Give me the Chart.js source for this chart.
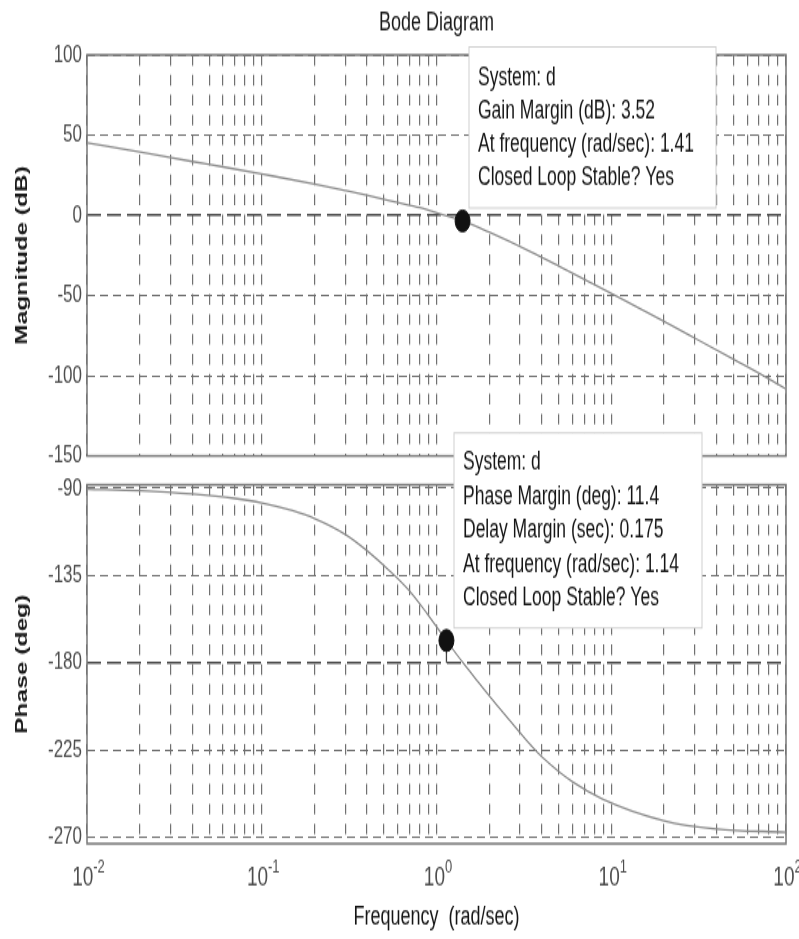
<!DOCTYPE html>
<html>
<head>
<meta charset="utf-8">
<title>Bode Diagram</title>
<script src="https://cdn.jsdelivr.net/npm/chart.js@4.4.0/dist/chart.umd.min.js"></script>
<style>
  html, body { margin: 0; padding: 0; background: #fff; }
  #wrap { position: relative; width: 799px; height: 939px; overflow: hidden; }
  /* canvases are drawn 650px tall and stretched to 939px, like the source image */
  #wrap canvas { position: absolute; left: 0; top: 0; }
</style>
</head>
<body>
<div id="wrap">
  <canvas id="mag" width="799" height="650" style="width:799px;height:939px"></canvas>
  <canvas id="phase" width="799" height="650" style="width:799px;height:939px"></canvas>
</div>
<script>
// magnitude curve
const magFreq = [0.01, 0.02, 0.04, 0.06, 0.1, 0.2, 0.3, 0.4, 0.6, 0.8, 1.05, 1.41, 2.0, 3.44, 5, 10.3, 20, 30, 50, 78, 100];
const magDb = [45.2, 39.5, 33.6, 30.2, 25.8, 19.6, 15.5, 12.5, 8.0, 4.8, 0.9, -3.52, -10.5, -22.5, -31.5, -49.4, -66.1, -76.5, -89.7, -101.3, -108.2];

// phase curve
const phaseFreq = [0.01, 0.02, 0.04, 0.07, 0.1, 0.15, 0.2, 0.3, 0.4, 0.54, 0.7, 0.88, 1.14, 1.43, 2.03, 3.0, 3.5, 4.0, 6.0, 9.0, 20, 40, 100];
const phaseDeg = [-90.5, -91.3, -93, -95.3, -97.6, -101.6, -105.6, -113.8, -122.2, -132.7, -143, -154.5, -168.6, -180.5, -197.8, -216, -223, -228.5, -241.5, -250.5, -261.5, -265.8, -267.5];

// margins shown in the data tips
const gainMargin = 3.52;
const gmFreq = 1.41;
const phaseMargin = 11.4;
const delayMargin = 0.175;
const pmFreq = 1.14;

// ticks
const magTicks = [100, 50, 0, -50, -100, -150];
const phaseTicks = [-90, -135, -180, -225, -270];
const decadeExps = [-2, -1, 0, 1, 2];
const minorSteps = [1, 2, 3, 4, 5, 6, 7, 8, 9];

const family = "'Liberation Sans', Arial, Helvetica, sans-serif";
const tickColor = '#4d4d4d';
const gridColor = '#707070';
const strongGrid = '#4a4a4a';

Chart.defaults.font.family = family;
Chart.defaults.color = tickColor;

const xGridValues = [];
decadeExps.forEach(e => {
  if (e === 2) { xGridValues.push(100); return; }
  minorSteps.forEach(m => xGridValues.push(m * Math.pow(10, e)));
});

const isRef = (c, v) => c.tick && c.tick.value === v;

function xScale(extra) {
  return Object.assign({
    type: 'logarithmic',
    min: 0.01,
    max: 100,
    ticks: { display: false },
    grid: { color: gridColor, lineWidth: 1.2, drawTicks: false },
    border: { display: false, dash: [7.4, 6.4] },
    afterBuildTicks: s => { s.ticks = xGridValues.map(v => ({ value: v })); }
  }, extra);
}

function yScale(min, max, ticks, refValue, label) {
  return {
    min: min,
    max: max,
    afterBuildTicks: s => { s.ticks = ticks.map(v => ({ value: v })); },
    afterFit: s => { s.width = 87; },
    ticks: { padding: 5, font: { size: 17 }, color: tickColor },
    grid: {
      drawTicks: false,
      color: c => isRef(c, refValue) ? strongGrid : gridColor,
      lineWidth: c => isRef(c, refValue) ? 1.5 : 1
    },
    border: { display: false, dash: c => isRef(c, refValue) ? [14, 6] : [8, 5] },
    title: {
      display: true,
      text: label,
      color: '#1a1a1a',
      font: { size: 17, weight: 'bold' },
      padding: { top: 12.2, bottom: 0 }
    }
  };
}

const frame = {
  id: 'frame',
  beforeDatasetsDraw(chart) {
    const { ctx, chartArea: a } = chart;
    ctx.save();
    ctx.strokeStyle = '#777';
    ctx.lineWidth = 1.5;
    ctx.strokeRect(a.left, a.top, a.right - a.left, a.bottom - a.top);
    ctx.restore();
  }
};

function dataTip(box) {
  return {
    id: 'tip',
    afterDraw(chart) {
      const ctx = chart.ctx;
      ctx.save();
      ctx.fillStyle = '#fff';
      ctx.fillRect(box.x, box.y, box.w, box.h);
      ctx.strokeStyle = '#cfcfcf';
      ctx.lineWidth = 1;
      ctx.strokeRect(box.x, box.y, box.w, box.h);
      ctx.fillStyle = '#151515';
      ctx.font = '17.5px ' + family;
      ctx.textAlign = 'left';
      ctx.textBaseline = 'alphabetic';
      box.lines.forEach((t, i) => ctx.fillText(t, box.x + 9, box.base + i * box.step));
      ctx.restore();
    }
  };
}

const decadeLabels = {
  id: 'decadeLabels',
  afterDraw(chart) {
    const ctx = chart.ctx;
    const xs = chart.scales.x;
    ctx.save();
    ctx.fillStyle = tickColor;
    ctx.textAlign = 'left';
    ctx.textBaseline = 'alphabetic';
    decadeExps.forEach(e => {
      const px = xs.getPixelForValue(Math.pow(10, e));
      ctx.font = '19px ' + family;
      const wb = ctx.measureText('10').width;
      ctx.font = '13px ' + family;
      const we = ctx.measureText(String(e)).width;
      const x0 = px + 1.5 - (wb + we) / 2;
      ctx.font = '19px ' + family;
      ctx.fillText('10', x0, 613);
      ctx.font = '13px ' + family;
      ctx.fillText(String(e), x0 + wb, 604);
    });
    ctx.restore();
  }
};

const lineStyle = {
  borderColor: '#8c8c8c',
  borderWidth: 1.3,
  pointRadius: 0,
  cubicInterpolationMode: 'monotone',
  order: 2
};

const markerStyle = {
  showLine: false,
  pointRadius: 7.5,
  pointBackgroundColor: '#111',
  pointBorderColor: '#111',
  order: 0
};

new Chart(document.getElementById('mag'), {
  type: 'line',
  data: {
    datasets: [
      Object.assign({ data: [{ x: gmFreq, y: -gainMargin }] }, markerStyle),
      Object.assign({ data: magFreq.map((f, i) => ({ x: f, y: magDb[i] })) }, lineStyle)
    ]
  },
  options: {
    responsive: false,
    animation: false,
    events: [],
    layout: { padding: { top: 0, left: 0, right: 13, bottom: 334.4 } },
    plugins: {
      legend: { display: false },
      tooltip: { enabled: false },
      title: {
        display: true,
        text: 'Bode Diagram',
        fullSize: false,
        color: '#1a1a1a',
        font: { size: 18, weight: 'normal' },
        padding: { top: 4.9, bottom: 11.5 }
      }
    },
    scales: {
      x: xScale({ afterFit: s => { s.height = 0; } }),
      y: yScale(-150, 100, magTicks, 0, 'Magnitude (dB)')
    }
  },
  plugins: [frame, dataTip({
    x: 469, y: 32.5, w: 247, h: 111.5, base: 59, step: 23,
    lines: ['System: d', 'Gain Margin (dB): ' + gainMargin, 'At frequency (rad/sec): ' + gmFreq, 'Closed Loop Stable? Yes']
  })]
});

new Chart(document.getElementById('phase'), {
  type: 'line',
  data: {
    datasets: [
      Object.assign({ data: [{ x: pmFreq, y: -180 + phaseMargin }] }, markerStyle),
      {
        data: [{ x: pmFreq, y: -180 + phaseMargin }, { x: pmFreq, y: -180 }],
        borderColor: '#444',
        borderWidth: 1.3,
        pointRadius: 0,
        order: 1
      },
      Object.assign({ data: phaseFreq.map((f, i) => ({ x: f, y: phaseDeg[i] })) }, lineStyle)
    ]
  },
  options: {
    responsive: false,
    animation: false,
    events: [],
    layout: { padding: { top: 335.6, left: 0, right: 13, bottom: 0 } },
    plugins: { legend: { display: false }, tooltip: { enabled: false } },
    scales: {
      x: xScale({
        afterFit: s => { s.height = 66; },
        title: {
          display: true,
          text: 'Frequency  (rad/sec)',
          color: '#151515',
          font: { size: 18 },
          padding: { top: 0, bottom: 3.9 }
        }
      }),
      y: yScale(-273.4, -88.3, phaseTicks, -180, 'Phase (deg)')
    }
  },
  plugins: [frame, decadeLabels, dataTip({
    x: 454, y: 299.7, w: 248, h: 135, base: 325.3, step: 23.5,
    lines: ['System: d', 'Phase Margin (deg): ' + phaseMargin, 'Delay Margin (sec): ' + delayMargin, 'At frequency (rad/sec): ' + pmFreq, 'Closed Loop Stable? Yes']
  })]
});
</script>
</body>
</html>
